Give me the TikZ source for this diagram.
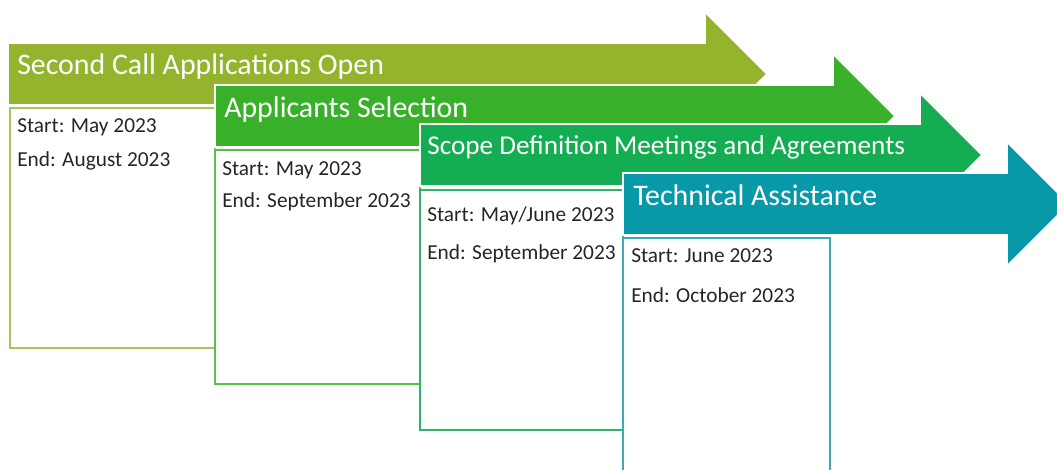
\documentclass[tikz,border=0pt]{standalone}
\usepackage{fontspec}
\setmainfont{Carlito}

\definecolor{phaseA}{HTML}{95B42E}
\definecolor{phaseB}{HTML}{38B02A}
\definecolor{phaseC}{HTML}{14AD52}
\definecolor{phaseD}{HTML}{0899A9}
\definecolor{lineA}{HTML}{A8C65C}
\definecolor{lineB}{HTML}{5ABE4A}
\definecolor{lineC}{HTML}{30B46A}
\definecolor{lineD}{HTML}{3EAAB9}

\tikzset{
  phasearrow/.style={draw=white, line width=1.2pt},
  phasebox/.style={fill=white, line width=1pt},
  phasetitle/.style={text=white, anchor=base west, inner sep=0pt,
    font=\fontsize{22.4}{26}\selectfont},
  datetext/.style={text=black!85, anchor=base west, inner sep=0pt,
    font=\fontsize{16}{19}\selectfont}
}

\begin{document}
\begin{tikzpicture}[x=0.75pt,y=-0.75pt]
\clip (0,0) rectangle (1057,470);
\fill[white] (0,0) rectangle (1057,470);

% second call
\begin{scope}[shift={(8,43)}]
\pgfmathsetmacro{\len}{697}
\path[phasearrow, fill=phaseA] (0,0) -- (\len,0) -- (\len,-31) -- (\len+62,31)
  -- (\len,93) -- (\len,62) -- (0,62) -- cycle;
\node[phasetitle] (title1) at (9,32) {Second Call Applications Open};
\draw[phasebox, draw=lineA] (2,65) rectangle (207,305);
\node[datetext] (start1) at (9,90) {Start: May 2023};
\node[datetext] (end1) at (9,124) {End: August 2023};
\end{scope}

% selection
\begin{scope}[shift={(215,85)}]
\pgfmathsetmacro{\len}{618}
\path[phasearrow, fill=phaseB] (0,0) -- (\len,0) -- (\len,-31) -- (\len+62,31)
  -- (\len,93) -- (\len,62) -- (0,62) -- cycle;
\node[phasetitle] (title2) at (9,33) {Applicants Selection};
\draw[phasebox, draw=lineB] (0,65) rectangle (205,299);
\node[datetext] (start2) at (7,91) {Start: May 2023};
\node[datetext] (end2) at (7,123) {End: September 2023};
\end{scope}

% scope definition
\begin{scope}[shift={(420,124)}]
\pgfmathsetmacro{\len}{500}
\path[phasearrow, fill=phaseC] (0,0) -- (\len,0) -- (\len,-31) -- (\len+62,31)
  -- (\len,93) -- (\len,62) -- (0,62) -- cycle;
\node[phasetitle, font=\fontsize{20.4}{24}\selectfont] (title3) at (7,31)
  {Scope Definition Meetings and Agreements};
\draw[phasebox, draw=lineC] (0,66) rectangle (203,306);
\node[datetext] (start3) at (7,98) {Start: May/June 2023};
\node[datetext] (end3) at (7,136) {End: September 2023};
\end{scope}

% technical assistance
\begin{scope}[shift={(623,173)}]
\pgfmathsetmacro{\len}{384}
\path[phasearrow, fill=phaseD] (0,0) -- (\len,0) -- (\len,-31) -- (\len+62,31)
  -- (\len,93) -- (\len,62) -- (0,62) -- cycle;
\node[phasetitle] (title4) at (10,33) {Technical Assistance};
\draw[phasebox, draw=lineD] (0,65) rectangle (207,320);
\node[datetext] (start4) at (8,90) {Start: June 2023};
\node[datetext] (end4) at (8,130) {End: October 2023};
\end{scope}

\end{tikzpicture}
\end{document}
